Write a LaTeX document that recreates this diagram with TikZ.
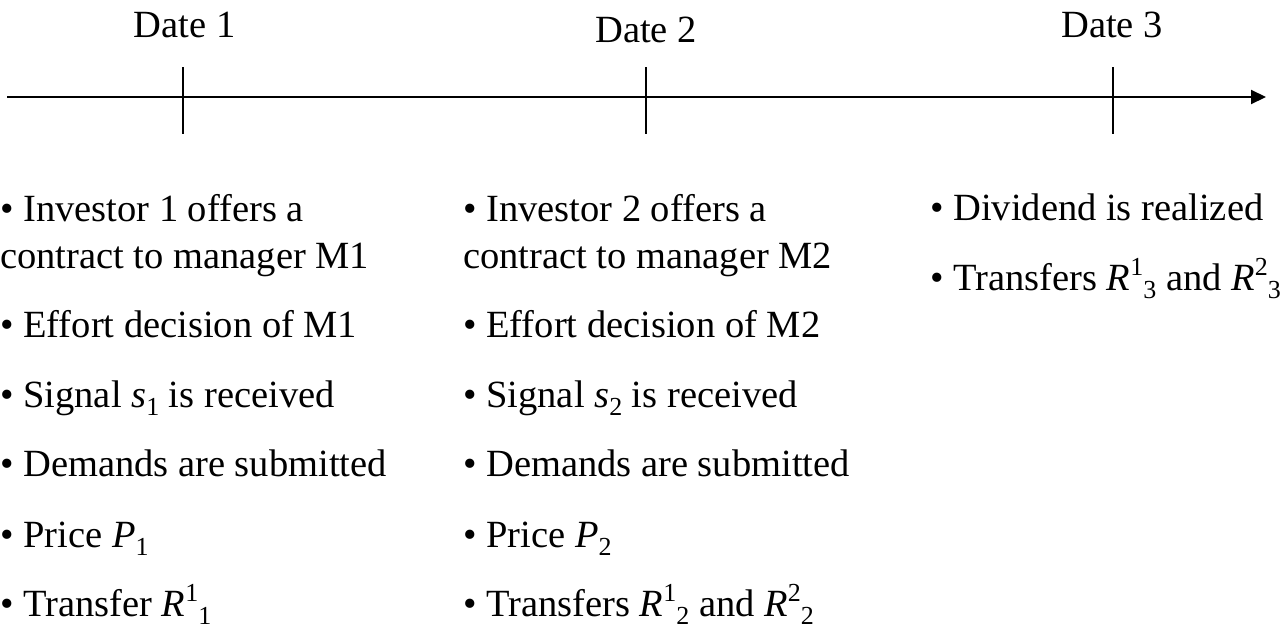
\documentclass[tikz,border=0pt]{standalone}
\usepackage{fontspec}
\setmainfont{Liberation Serif}
\usetikzlibrary{arrows.meta}
\newcommand{\supx}[1]{\raisebox{15pt}{\fontsize{26}{26}\selectfont #1}}
\newcommand{\subx}[1]{\raisebox{-8pt}{\fontsize{26}{26}\selectfont #1}}
\begin{document}
\begin{tikzpicture}[x=1pt,y=-1pt,
  txt/.style={anchor=base west, inner sep=0pt, font=\fontsize{38.5}{46}\selectfont},
  datelbl/.style={anchor=base, inner sep=0pt, font=\fontsize{38.5}{46}\selectfont},
  axisline/.style={line width=2pt, -{Triangle[length=15pt,width=14pt]}},
  tickline/.style={line width=1.5pt}]
\useasboundingbox (0,0) rectangle (1284,629);

% axis
\coordinate (ax0) at (7,97);
\coordinate (ax1) at (1266,97);
\draw[axisline] (ax0) -- (ax1);

% ticks
\coordinate (t1a) at (183,67);  \coordinate (t1b) at (183,134);
\coordinate (t2a) at (646,67);  \coordinate (t2b) at (646,134);
\coordinate (t3a) at (1113,67); \coordinate (t3b) at (1113,134);
\draw[tickline] (t1a) -- (t1b);
\draw[tickline] (t2a) -- (t2b);
\draw[tickline] (t3a) -- (t3b);

% date labels
\node[datelbl] (d1) at (184.5,37) {Date 1};
\node[datelbl] (d2) at (646,42) {Date 2};
\node[datelbl] (d3) at (1112,37) {Date 3};

% column 1
\node[txt] (a1) at (0,221) {• Investor 1 offers a};
\node[txt] (a1b) at (0,268) {contract to manager M1};
\node[txt] (a2) at (0,337) {• Effort decision of M1};
\node[txt] (a3) at (0,407) {• Signal \textit{s}\subx{1} is received};
\node[txt] (a4) at (0,476) {• Demands are submitted};
\node[txt] (a5) at (0,547) {• Price \textit{P}\subx{1}};
\node[txt] (a6) at (0,616) {• Transfer \textit{R}\supx{1}\subx{1}};

% column 2
\node[txt] (b1) at (463,221) {• Investor 2 offers a};
\node[txt] (b1b) at (463,268) {contract to manager M2};
\node[txt] (b2) at (463,337) {• Effort decision of M2};
\node[txt] (b3) at (463,407) {• Signal \textit{s}\subx{2} is received};
\node[txt] (b4) at (463,476) {• Demands are submitted};
\node[txt] (b5) at (463,547) {• Price \textit{P}\subx{2}};
\node[txt] (b6) at (463,616) {• Transfers \textit{R}\supx{1}\subx{2} and \textit{R}\supx{2}\subx{2}};

% column 3
\node[txt] (c1) at (930,220) {• Dividend is realized};
\node[txt] (c2) at (930,290) {• Transfers \textit{R}\supx{1}\subx{3} and \textit{R}\supx{2}\subx{3}};
\end{tikzpicture}
\end{document}
